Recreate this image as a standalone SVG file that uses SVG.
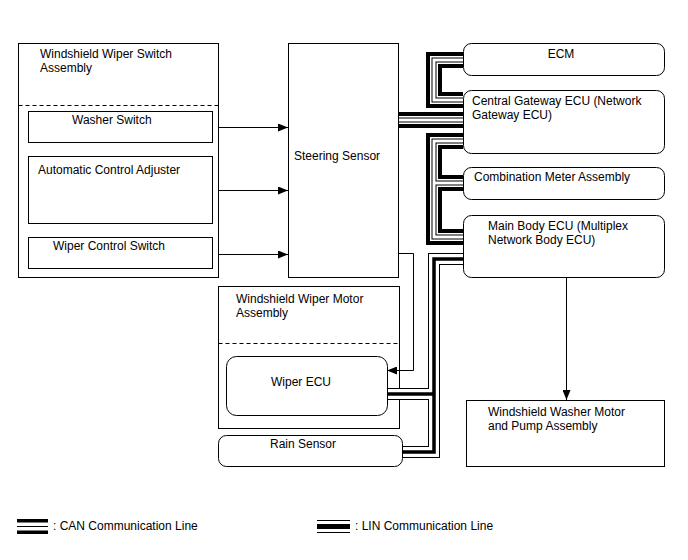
<svg xmlns="http://www.w3.org/2000/svg" width="688" height="560" viewBox="0 0 688 560">
<style>
text{font-family:"Liberation Sans",Arial,sans-serif;font-size:12px;fill:#000}
.box{fill:#fff;stroke:#000;stroke-width:1}
.dash{stroke:#000;stroke-width:1;stroke-dasharray:4,3;fill:none}
.wire{stroke:#000;stroke-width:1;fill:none}
.c1{stroke:#000;stroke-width:16;fill:none;stroke-linejoin:miter}
.c2{stroke:#fff;stroke-width:8;fill:none;stroke-linejoin:miter}
.c3{stroke:#000;stroke-width:5;fill:none;stroke-linejoin:miter}
.c4{stroke:#fff;stroke-width:3;fill:none;stroke-linejoin:miter}
.l1{stroke:#000;stroke-width:12;fill:none;stroke-linejoin:miter}
.l2{stroke:#fff;stroke-width:10;fill:none;stroke-linejoin:miter}
.l3{stroke:#000;stroke-width:3.5;fill:none;stroke-linejoin:miter}
</style>
<defs>
<marker id="ah" viewBox="0 0 10 8" refX="10" refY="4" markerWidth="10" markerHeight="8" markerUnits="userSpaceOnUse" orient="auto">
<path d="M0,0 L10,4 L0,8 Z" fill="#000"/>
</marker>
</defs>
<rect width="688" height="560" fill="#fff"/>

<g id="wiper-motor-assembly">
<rect class="box" x="218.5" y="286.5" width="181" height="142"/>
<line class="dash" x1="218.5" y1="343.5" x2="399.5" y2="343.5"/>
<text x="236" y="303">Windshield Wiper Motor</text>
<text x="236" y="317">Assembly</text>
</g>

<g id="connectors">
<path class="c1" d="M463,60 H434 V100 H463"/>
<path class="c1" d="M463,141 H434 V237 H463"/>
<path class="c1" d="M434,183 H463"/>
<path class="c1" d="M398,120 H463"/>
<path class="c2" d="M463,60 H434 V100 H463"/>
<path class="c2" d="M463,141 H434 V237 H463"/>
<path class="c2" d="M434,183 H463"/>
<path class="c2" d="M398,120 H463"/>
<path class="c3" d="M463,60 H434 V100 H463"/>
<path class="c3" d="M463,141 H434 V237 H463"/>
<path class="c3" d="M434,183 H463"/>
<path class="c3" d="M398,120 H463"/>
<path class="c4" d="M463,60 H434 V100 H463"/>
<path class="c4" d="M463,141 H434 V237 H463"/>
<path class="c4" d="M434,183 H463"/>
<path class="c4" d="M398,120 H463"/>

<path class="l1" d="M463,259 H434 V452 H402"/>
<path class="l1" d="M434,394 H387"/>
<path class="l2" d="M463,259 H434 V452 H402"/>
<path class="l2" d="M434,394 H387"/>
<path class="l3" d="M463,259 H434 V452 H402"/>
<path class="l3" d="M434,394 H387"/>

<line class="wire" x1="212" y1="127.5" x2="288" y2="127.5" marker-end="url(#ah)"/>
<line class="wire" x1="212" y1="190.5" x2="288" y2="190.5" marker-end="url(#ah)"/>
<line class="wire" x1="212" y1="254.5" x2="288" y2="254.5" marker-end="url(#ah)"/>
<path class="wire" d="M398,253.5 H413.5 V370.5 H387" marker-end="url(#ah)"/>
<line class="wire" x1="566.5" y1="277" x2="566.5" y2="400" marker-end="url(#ah)"/>
</g>

<g id="wiper-switch-assembly">
<rect class="box" x="18.5" y="43.5" width="200" height="234"/>
<line class="dash" x1="18.5" y1="105.5" x2="218.5" y2="105.5"/>
<text x="40" y="58">Windshield Wiper Switch</text>
<text x="40" y="72">Assembly</text>
</g>
<g id="washer-switch">
<rect class="box" x="28.5" y="111.5" width="184" height="31"/>
<text x="72" y="124">Washer Switch</text>
</g>
<g id="auto-control-adjuster">
<rect class="box" x="28.5" y="156.5" width="184" height="67"/>
<text x="38" y="174">Automatic Control Adjuster</text>
</g>
<g id="wiper-control-switch">
<rect class="box" x="28.5" y="237.5" width="184" height="31"/>
<text x="53" y="250">Wiper Control Switch</text>
</g>
<g id="steering-sensor">
<rect class="box" x="288.5" y="43.5" width="110" height="234"/>
<text x="294" y="160">Steering Sensor</text>
</g>
<g id="ecm">
<rect class="box" x="463.5" y="43.5" width="201" height="32" rx="8"/>
<text x="561" y="58" text-anchor="middle">ECM</text>
</g>
<g id="central-gateway">
<rect class="box" x="463.5" y="90.5" width="201" height="63" rx="8"/>
<text x="472" y="105">Central Gateway ECU (Network</text>
<text x="472" y="119">Gateway ECU)</text>
</g>
<g id="combination-meter">
<rect class="box" x="463.5" y="167.5" width="201" height="32" rx="8"/>
<text x="474" y="181">Combination Meter Assembly</text>
</g>
<g id="main-body-ecu">
<rect class="box" x="463.5" y="215.5" width="201" height="62" rx="8"/>
<text x="488" y="230">Main Body ECU (Multiplex</text>
<text x="488" y="244">Network Body ECU)</text>
</g>
<g id="wiper-ecu">
<rect class="box" x="226.5" y="356.5" width="161" height="59" rx="10"/>
<text x="271" y="386">Wiper ECU</text>
</g>
<g id="rain-sensor">
<rect class="box" x="218.5" y="435.5" width="184" height="31" rx="8"/>
<text x="270" y="448">Rain Sensor</text>
</g>
<g id="washer-motor-pump">
<rect class="box" x="466.5" y="400.5" width="198" height="66"/>
<text x="488" y="416">Windshield Washer Motor</text>
<text x="488" y="430">and Pump Assembly</text>
</g>

<g id="legend">
<rect x="17" y="519" width="31" height="3.5" fill="#000"/>
<rect x="17" y="526" width="31" height="1" fill="#000"/>
<rect x="17" y="530.5" width="31" height="3.5" fill="#000"/>
<text x="53" y="530">: CAN Communication Line</text>
<rect x="317" y="520" width="33" height="1" fill="#000"/>
<rect x="317" y="524" width="33" height="5" fill="#000"/>
<rect x="317" y="532" width="33" height="1" fill="#000"/>
<text x="355" y="530">: LIN Communication Line</text>
</g>
</svg>
